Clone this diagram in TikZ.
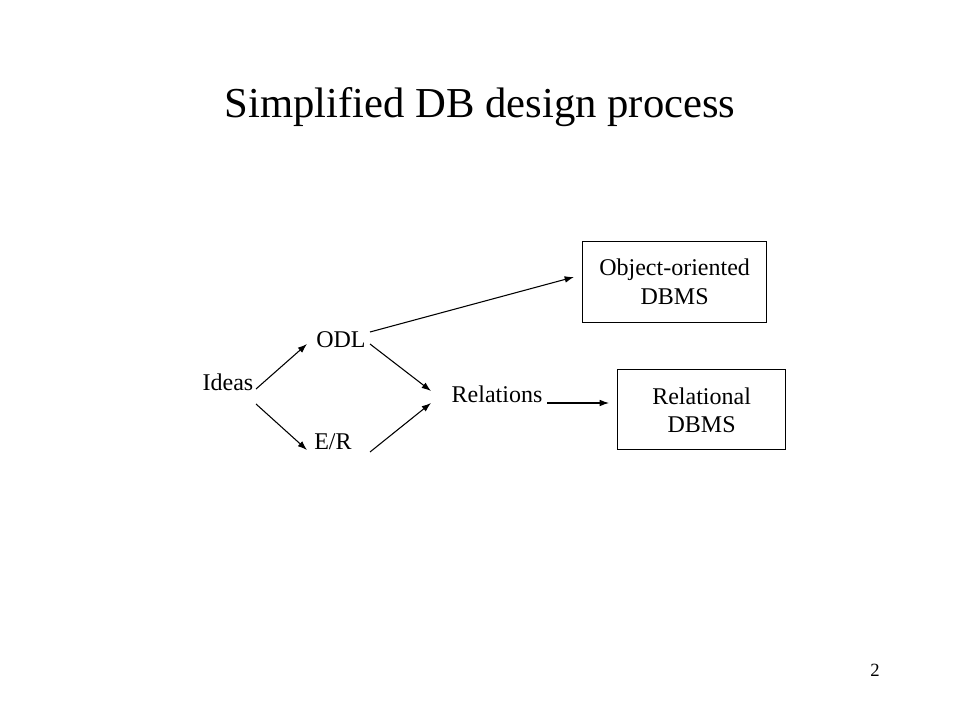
\documentclass[tikz,border=0pt]{standalone}
\usepackage{fontspec}
\setmainfont{Liberation Serif}
\usetikzlibrary{arrows.meta}
\begin{document}
\begin{tikzpicture}[x=0.75pt,y=-0.75pt,
  lbl/.style={inner sep=0pt,anchor=base,font=\fontsize{18}{21}\selectfont},
  boxnode/.style={draw,line width=0.9pt,inner sep=0pt,minimum width=#1},
  arr/.style={-{Latex[length=7pt,width=5pt]},line width=0.8pt}]
\useasboundingbox[fill=white] (0,0) rectangle (960,720);
\node[inner sep=0pt,anchor=base,font=\fontsize{32}{38}\selectfont] (title) at (480,118) {Simplified DB design process};
\node[lbl] (ideas) at (228,390) {Ideas};
\node[lbl] (odl) at (341,347) {ODL};
\node[lbl] (er) at (333,449) {E/R};
\node[lbl] (rels) at (497,402) {Relations};
\node[draw,line width=0.9pt,minimum width=138pt,minimum height=60.75pt,anchor=north west] (oo) at (582,241) {};
\node[lbl] (oo1) at (oo.center |- 0,276) {Object-oriented};
\node[lbl] (oo2) at (oo.center |- 0,305) {DBMS};
\node[draw,line width=0.9pt,minimum width=126pt,minimum height=60pt,anchor=north west] (rd) at (617,369) {};
\node[lbl] (rd1) at (rd.center |- 0,404) {Relational};
\node[lbl] (rd2) at (rd.center |- 0,432) {DBMS};
\node[inner sep=0pt,anchor=base,font=\fontsize{14}{16}\selectfont] (pg) at (875,676) {2};
\coordinate (a1s) at (256,389); \coordinate (a1e) at (307,344);
\coordinate (a2s) at (256,404); \coordinate (a2e) at (307,450);
\coordinate (a3s) at (370,332); \coordinate (a3e) at (574,277);
\coordinate (a4s) at (370,344); \coordinate (a4e) at (431,391);
\coordinate (a5s) at (370,452); \coordinate (a5e) at (431,403);
\coordinate (a6s) at (547,403); \coordinate (a6e) at (609,403);
\draw[arr] (a1s) -- (a1e);
\draw[arr] (a2s) -- (a2e);
\draw[arr] (a3s) -- (a3e);
\draw[arr] (a4s) -- (a4e);
\draw[arr] (a5s) -- (a5e);
\draw[arr] (a6s) -- (a6e);
\end{tikzpicture}
\end{document}
